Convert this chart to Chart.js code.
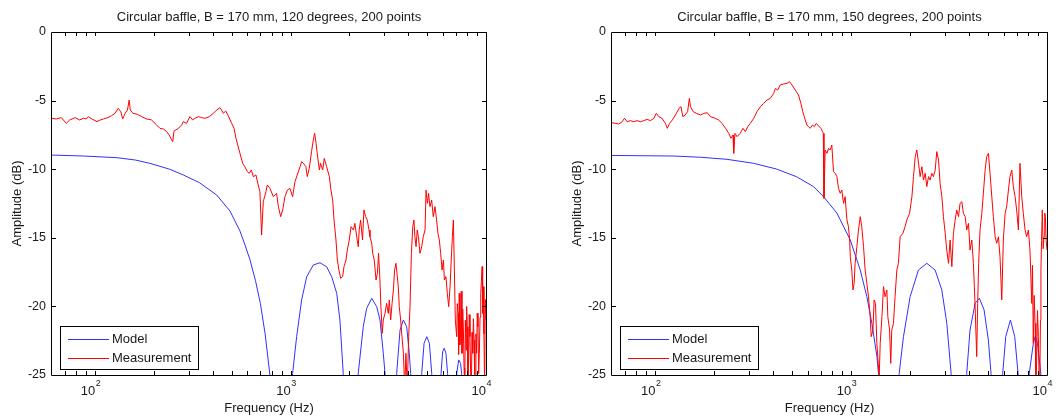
<!DOCTYPE html>
<html>
<head>
<meta charset="utf-8">
<script src="https://cdn.jsdelivr.net/npm/chart.js@4.4.1/dist/chart.umd.min.js"></script>
<style>
  html, body { margin: 0; padding: 0; background: #fff; }
  #wrap { position: relative; width: 1057px; height: 416px; overflow: hidden; }
  canvas { position: absolute; top: 0; }
  #left { left: 0; }
  #right { left: 560px; }
</style>
</head>
<body>
<div id="wrap">
  <canvas id="left" width="528" height="416"></canvas>
  <canvas id="right" width="497" height="416"></canvas>
</div>
<script>
// 120 degrees: model
var freqModelA = [60, 87, 129, 160, 190, 240, 282, 341, 418, 489, 550, 583, 619, 660, 700, 740, 783, 870,
  1023, 1073, 1138, 1208, 1306, 1413, 1528, 1622, 1721, 1787, 1858, 2030,
  2218, 2353, 2449, 2600, 2757, 2866, 2980, 3040, 3260,
  3490, 3630, 3775, 3927, 4047, 4115, 4400,
  4688, 4820, 4977, 5130, 5275, 5580,
  5888, 6000, 6110, 6237, 6360, 6700,
  7080, 7250, 7410, 7500, 8000, 10000];
var modelA = [-8.97, -9.04, -9.16, -9.33, -9.57, -10.0, -10.42, -10.98, -11.88, -13.05, -14.5, -15.5, -16.6, -18.1, -19.8, -22.0, -25.0, -40,
  -24.88, -22.21, -19.53, -17.84, -16.98, -16.82, -17.11, -17.84, -19.05, -20.99, -24.88, -40,
  -24.88, -21.48, -20.14, -19.41, -20.02, -20.99, -23.42, -24.88, -40,
  -24.88, -21.72, -20.99, -21.48, -23.42, -24.88, -40,
  -24.88, -22.69, -22.21, -22.69, -24.88, -40,
  -24.88, -23.3, -23.05, -23.42, -24.88, -40,
  -24.88, -23.9, -24.15, -24.88, -40, -40];

// 120 degrees: measurement
var freqMeasA = [60, 63, 67, 71, 74, 79, 83, 87, 90, 92, 96, 102, 106, 110, 116, 121, 126, 131, 135, 138,
  142, 146, 149, 151, 156, 164, 173, 183, 194, 206, 214, 223, 232, 239, 246, 249, 253, 266, 277, 282,
  293, 305, 315, 323, 337, 350, 364, 383, 402, 418, 434, 443, 452, 465, 479, 499, 513, 525, 536, 550,
  568, 583, 600, 614, 629, 644, 664, 682, 696, 710, 724, 747, 759, 783, 815, 847, 865, 889, 910, 935,
  962, 991, 1023, 1052, 1081, 1117, 1138, 1161, 1197, 1216, 1245, 1279, 1306, 1327, 1349, 1368, 1403, 1422, 1459, 1486,
  1528, 1578, 1607, 1641, 1667, 1706, 1734, 1766, 1803, 1845, 1875, 1919, 1950, 1995, 2037, 2094, 2133, 2178, 2218, 2244,
  2280, 2333, 2371, 2421, 2466, 2518, 2547, 2600, 2630, 2679, 2735, 2780, 2818, 2864, 2897, 2944, 2979, 3041, 3097, 3162,
  3199, 3251, 3304, 3357, 3404, 3459, 3516, 3556, 3597, 3656, 3715, 3776, 3837, 3890, 3954, 4018, 4083, 4150, 4217, 4276,
  4325, 4385, 4446, 4508, 4592, 4688, 4775, 4875, 4932, 5012, 5082, 5164, 5272, 5370, 5483, 5585, 5675, 5768, 5861, 5957,
  6053, 6124, 6237, 6339, 6442, 6546, 6637, 6730, 6808, 6887, 6966,
  7079, 7130, 7194, 7240, 7295, 7350, 7413, 7470, 7534, 7600, 7656, 7720, 7780, 7840, 7907, 7960, 8017, 8080, 8147, 8210,
  8279, 8340, 8414, 8480, 8551, 8620, 8690, 8750, 8810, 8880, 8954, 9020, 9099, 9170, 9247, 9320, 9397, 9470, 9550, 9610,
  9683, 9760, 9840, 9920, 10000];
var measA = [-6.29, -6.34, -6.24, -6.66, -6.41, -6.24, -6.41, -6.29, -6.34, -6.17, -6.34, -6.53, -6.41, -6.34, -6.24, -6.10, -5.93, -5.56, -5.81, -6.34,
  -5.93, -5.69, -4.96, -5.69, -5.93, -6.00, -6.17, -6.34, -6.41, -6.78, -7.02, -7.07, -7.26, -7.51, -7.87, -7.99, -7.22, -7.02, -6.78, -6.53,
  -6.66, -6.17, -6.41, -6.29, -6.17, -6.24, -6.29, -6.17, -5.93, -5.69, -5.52, -5.69, -5.93, -5.76, -6.10, -6.66, -7.02, -7.75, -8.24, -8.84,
  -9.57, -9.82, -10.18, -10.30, -10.06, -10.55, -10.42, -11.15, -11.64, -14.80, -12.37, -11.64, -11.15, -11.39, -12.00, -11.76, -12.73, -13.46, -12.97, -12.00,
  -11.52, -11.39, -12.00, -10.91, -10.42, -9.82, -9.45, -9.57, -9.82, -10.54, -9.94, -8.72, -7.87, -7.39, -8.12, -8.84, -10.06, -9.57, -10.06, -9.21,
  -9.82, -10.54, -11.52, -12.25, -13.70, -15.16, -16.62, -17.35, -17.95, -17.83, -17.10, -16.62, -15.89, -15.16, -14.19, -14.43, -13.95, -14.92, -15.65, -14.43,
  -13.70, -15.16, -12.97, -13.46, -13.70, -14.43, -14.92, -15.40, -16.13, -16.62, -18.08, -17.59, -16.13, -18.08, -20.02, -21.96, -20.99, -20.51, -19.78, -20.51,
  -19.53, -20.99, -19.78, -18.80, -17.35, -16.86, -17.83, -18.56, -20.02, -20.99, -22.21, -23.42, -26.0, -23.42, -26.0, -22.21, -20.02, -16.13, -14.19, -13.70,
  -14.92, -15.65, -14.43, -14.92, -16.13, -15.65, -14.92, -14.43, -11.52, -12.49, -11.76, -12.73, -12.25, -13.46, -12.73, -13.70, -14.67, -15.16, -16.13, -17.35,
  -16.62, -18.08, -17.83, -19.05, -20.02, -18.56, -16.62, -14.92, -13.70, -17.35, -20.99,
  -22.21, -19.8, -20.51, -23.5, -19.05, -22.8, -21.96, -18.9, -23.42, -20.2, -21.48, -24.5, -26.0, -21.0, -23.18, -20.0, -21.48, -25.5, -23.91, -20.6,
  -22.21, -24.8, -26.0, -21.9, -23.42, -20.9, -22.45, -25.2, -26.0, -22.0, -23.42, -20.5, -21.48, -24.9, -23.42, -20.8, -19.05, -18.2, -17.10, -20.5,
  -18.56, -22.0, -26.0, -19.5, -20.99];

// 150 degrees: model
var freqModelB = [60, 124, 170, 232, 317, 416, 526, 642, 722, 845, 989, 1112, 1202, 1275, 1353, 1380, 1550,
  1758, 1849, 2000, 2205, 2432, 2683, 2902, 3078, 3238, 3550,
  3890, 4045, 4293, 4515, 4772, 5018, 5177, 5550,
  5940, 6155, 6505, 6840, 7115, 7600,
  8120, 8510, 8700, 8950, 9300, 10000];
var modelB = [-9.0, -9.04, -9.13, -9.28, -9.57, -9.99, -10.55, -11.27, -12.0, -13.2, -15.16, -17.35, -19.29, -21.23, -23.66, -25.0, -40,
  -24.88, -22.2, -19.29, -17.35, -16.86, -17.35, -18.8, -21.23, -24.88, -40,
  -24.88, -21.72, -19.78, -19.41, -20.26, -22.45, -24.88, -40,
  -24.88, -22.2, -20.99, -22.2, -24.88, -40,
  -24.88, -22.7, -22.2, -22.7, -24.88, -40];

// 150 degrees: measurement
var freqMeasB = [60, 62.5, 65, 67.6, 69.5, 71.7, 74.5, 77.5, 80.6, 83.8, 87.2, 90.7, 94.4, 98.2, 101, 104, 108, 112.5, 115, 118,
  122, 126.5, 132, 135, 138, 142, 146, 149, 151, 156, 162, 170, 177, 184, 191, 202, 210, 219, 228, 237,
  243, 249, 251, 255, 261, 271, 280, 288, 296, 305, 318, 330, 344, 357, 371, 386, 402, 410, 421, 434,
  452, 470, 484, 498, 518, 538, 553, 566, 582, 594, 605, 617, 635, 648, 663, 681, 700, 714, 720, 726,
  736, 752, 766, 781, 796, 812, 828, 845, 861, 879, 895, 914, 931, 951, 968, 982, 989, 1007, 1021, 1035,
  1047, 1069, 1089, 1112, 1132, 1156, 1178, 1202, 1225, 1250, 1265, 1291, 1309, 1330, 1352, 1374, 1390, 1406, 1435, 1462,
  1489, 1521, 1538, 1570, 1592, 1611, 1644, 1675, 1710, 1742, 1778, 1837, 1884, 1923, 1986, 2042, 2080, 2123, 2163, 2208,
  2249, 2296, 2339, 2388, 2432, 2483, 2529, 2582, 2630, 2685, 2735, 2793, 2844, 2904, 2958, 3020, 3076, 3141, 3199, 3266,
  3327, 3396, 3459, 3532, 3597, 3673, 3741, 3819, 3890, 3972, 4046, 4130, 4207, 4256, 4306, 4375, 4426, 4477, 4550, 4645,
  4732, 4831, 4920, 5023, 5117, 5224, 5321, 5433, 5534, 5649, 5754, 5875, 5984, 6109, 6223, 6353, 6471, 6607, 6730, 6871,
  6998, 7145, 7278, 7430, 7568, 7727, 7870, 8035, 8185, 8270, 8356, 8430, 8511, 8600, 8690, 8770, 8851, 8940, 9036, 9120,
  9204, 9260, 9311, 9380, 9462, 9560, 9660, 9740, 9817, 9900, 10000];
var measB = [-6.61, -6.66, -6.71, -6.54, -6.29, -6.54, -6.46, -6.54, -6.46, -6.54, -6.46, -6.37, -6.46, -6.29, -5.93, -6.17, -6.29, -6.66, -7.02, -6.66,
  -6.41, -6.05, -5.56, -5.44, -6.17, -6.05, -5.81, -4.84, -5.44, -5.81, -5.93, -6.05, -5.93, -5.88, -6.17, -6.29, -6.41, -6.66, -7.02, -7.39,
  -7.75, -7.51, -8.84, -7.39, -7.63, -7.39, -7.02, -7.26, -6.90, -6.66, -6.29, -5.81, -5.44, -5.20, -4.96, -4.84, -4.47, -4.11, -4.23, -3.86,
  -3.79, -3.74, -3.62, -3.86, -4.23, -4.59, -5.20, -5.81, -6.41, -6.78, -6.90, -7.02, -6.78, -6.90, -6.66, -6.85, -7.02, -7.26, -7.39, -12.12,
  -8.60, -8.84, -8.48, -8.60, -8.24, -10.18, -10.30, -10.54, -11.39, -11.76, -11.52, -12.49, -12.00, -13.70, -14.19, -15.16, -16.38, -17.35, -18.80, -18.32,
  -16.86, -15.65, -14.43, -13.46, -14.19, -15.65, -17.35, -18.32, -19.29, -20.75, -22.21, -21.72, -19.53, -19.78, -22.69, -24.15, -25.12, -22.69, -20.75, -18.56,
  -19.29, -18.80, -20.75, -21.72, -24.15, -21.72, -21.23, -19.29, -17.35, -16.86, -14.92, -14.67, -14.19, -13.70, -13.22, -12.00, -10.54, -9.09, -8.60, -9.57,
  -10.54, -9.82, -10.79, -10.30, -11.27, -10.54, -10.79, -10.30, -10.54, -10.06, -8.72, -9.33, -11.03, -12.00, -13.46, -14.67, -15.89, -16.86, -15.16, -17.10,
  -14.67, -13.70, -12.97, -13.46, -12.49, -12.37, -13.22, -13.46, -14.43, -13.95, -15.89, -15.16, -16.86, -18.56, -20.51, -23.66, -19.78, -16.86, -14.43, -13.22,
  -11.76, -10.06, -9.09, -8.84, -10.30, -12.00, -13.46, -14.92, -15.40, -14.92, -16.38, -19.53, -15.16, -13.22, -12.73, -11.52, -10.54, -10.06, -11.27, -12.00,
  -12.97, -14.43, -9.57, -12.00, -13.22, -14.43, -14.92, -14.43, -15.89, -17.8, -19.78, -17.0, -22.69, -19.2, -21.23, -25.5, -24.15, -20.3, -22.21, -25.6,
  -24.64, -21.0, -17.35, -15.2, -12.97, -15.8, -14.92, -13.2, -13.46, -15.2, -15.89];

var yTicks = [-25, -20, -15, -10, -5, 0];
var decades = [2, 3, 4];
var seriesNames = ['Model', 'Measurement'];
var seriesColors = ['#3030ff', '#ff0000'];

var textColor = '#1a1a1a';
var fontName = "'Liberation Sans', Arial, Helvetica, sans-serif";
Chart.defaults.font.family = fontName;
Chart.defaults.font.size = 12;
Chart.defaults.color = textColor;

function points(xs, ys) {
  return xs.map(function (f, i) { return { x: f, y: ys[i] }; });
}

// box, inward ticks, 10^n labels and the legend, MATLAB style
var axesFrame = {
  id: 'axesFrame',
  afterDraw: function (chart) {
    var ctx = chart.ctx;
    var a = chart.chartArea;
    var xs = chart.scales.x;
    var ys = chart.scales.y;
    var tick = 4;
    ctx.save();
    ctx.strokeStyle = '#000';
    ctx.lineWidth = 1;
    ctx.beginPath();
    ctx.rect(a.left - 0.5, a.top + 0.5, a.right - a.left + 1, a.bottom - a.top);
    ctx.stroke();

    ctx.beginPath();
    for (var e = 1; e <= 4; e++) {
      for (var m = 1; m <= 9; m++) {
        var v = m * Math.pow(10, e);
        if (v <= xs.min || v > xs.max) continue;
        var px = Math.round(xs.getPixelForValue(v)) + 0.5;
        ctx.moveTo(px, a.bottom);
        ctx.lineTo(px, a.bottom - tick);
        ctx.moveTo(px, a.top);
        ctx.lineTo(px, a.top + tick);
      }
    }
    yTicks.forEach(function (v) {
      var py = Math.round(ys.getPixelForValue(v)) + 0.5;
      ctx.moveTo(a.left, py);
      ctx.lineTo(a.left + tick, py);
      ctx.moveTo(a.right, py);
      ctx.lineTo(a.right - tick, py);
    });
    ctx.stroke();

    ctx.fillStyle = textColor;
    decades.forEach(function (e) {
      var px = xs.getPixelForValue(Math.pow(10, e));
      ctx.font = '13px ' + fontName;
      ctx.textAlign = 'right';
      ctx.textBaseline = 'alphabetic';
      ctx.fillText('10', px, a.bottom + 20);
      ctx.font = '9px ' + fontName;
      ctx.textAlign = 'left';
      ctx.fillText(String(e), px + 0.5, a.bottom + 11);
    });

    // legend
    var bx = a.left + 8, by = a.bottom - 49, bw = 138, bh = 43;
    ctx.fillStyle = '#fff';
    ctx.fillRect(bx, by, bw, bh);
    ctx.strokeStyle = '#000';
    ctx.strokeRect(bx + 0.5, by + 0.5, bw, bh);
    ctx.font = '13px ' + fontName;
    ctx.textAlign = 'left';
    ctx.textBaseline = 'middle';
    chart.data.datasets.forEach(function (ds, i) {
      var ly = Math.round(by + 13 + i * 19) + 0.5;
      ctx.strokeStyle = ds.borderColor;
      ctx.beginPath();
      ctx.moveTo(bx + 8, ly);
      ctx.lineTo(bx + 49, ly);
      ctx.stroke();
      ctx.fillStyle = textColor;
      ctx.fillText(ds.label, bx + 52, ly);
    });
    ctx.restore();
  }
};

function baffleChart(id, title, fModel, model, fMeas, meas, padRight) {
  return new Chart(document.getElementById(id), {
    type: 'line',
    data: {
      datasets: [
        { label: seriesNames[0], data: points(fModel, model), borderColor: seriesColors[0], borderWidth: 1, pointRadius: 0, tension: 0, order: 1 },
        { label: seriesNames[1], data: points(fMeas, meas), borderColor: seriesColors[1], borderWidth: 1, pointRadius: 0, tension: 0, order: 0 }
      ]
    },
    options: {
      responsive: false,
      animation: false,
      events: [],
      layout: { padding: { left: 0, right: padRight, top: 0, bottom: 0 } },
      plugins: {
        legend: { display: false },
        tooltip: { enabled: false },
        title: {
          display: true,
          text: title,
          fullSize: false,
          color: textColor,
          font: { size: 13, weight: 'normal' },
          padding: { top: 9.2, bottom: 7.2 }
        }
      },
      scales: {
        x: {
          type: 'logarithmic',
          min: 60,
          max: 10000,
          grid: { display: false, drawTicks: false },
          border: { display: false },
          ticks: { display: false },
          title: { display: true, text: 'Frequency (Hz)', color: textColor, font: { size: 13 }, padding: { top: 0, bottom: 0.2 } },
          afterFit: function (s) { s.height = 41; }
        },
        y: {
          min: -25,
          max: 0,
          grid: { display: false, drawTicks: false },
          border: { display: false },
          ticks: { stepSize: 5, padding: 6, color: textColor, font: { size: 12.5 } },
          title: { display: true, text: 'Amplitude (dB)', color: textColor, font: { size: 13 }, padding: { top: 9.2, bottom: 0 } },
          afterFit: function (s) { s.width = 52; }
        }
      }
    },
    plugins: [axesFrame]
  });
}

baffleChart('left', 'Circular baffle, B = 170 mm, 120 degrees, 200 points', freqModelA, modelA, freqMeasA, measA, 42);
baffleChart('right', 'Circular baffle, B = 170 mm, 150 degrees, 200 points', freqModelB, modelB, freqMeasB, measB, 10);
</script>
</body>
</html>
